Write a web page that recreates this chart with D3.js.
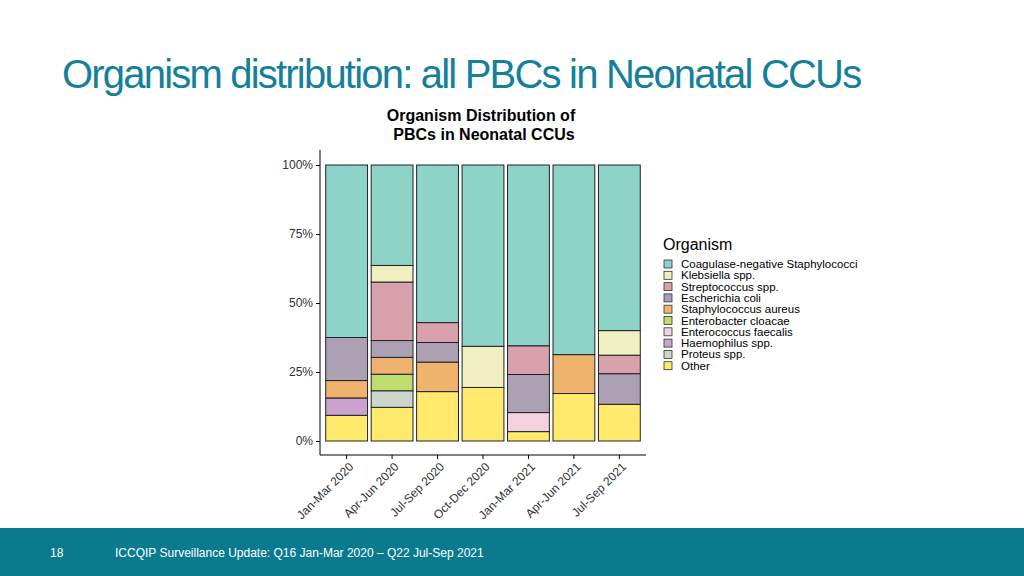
<!DOCTYPE html>
<html><head><meta charset="utf-8">
<script src="https://cdn.jsdelivr.net/npm/d3@7"></script>
<style>body{margin:0;background:#fff;font-family:"Liberation Sans",Arial,sans-serif}</style>
</head><body><svg id="c" width="1024" height="576"></svg>
<script>
const quarters = ['Jan-Mar 2020','Apr-Jun 2020','Jul-Sep 2020','Oct-Dec 2020','Jan-Mar 2021','Apr-Jun 2021','Jul-Sep 2021'];
// legend order (top to bottom)
const organisms = ['Coagulase-negative Staphylococci','Klebsiella spp.','Streptococcus spp.','Escherichia coli','Staphylococcus aureus','Enterobacter cloacae','Enterococcus faecalis','Haemophilus spp.','Proteus spp.','Other'];
const colours = ['#8dd3c7','#f0efc0','#d9a1ab','#aba1b3','#f0b36d','#bfdc6f','#f3d1e1','#c9a2cd','#cdd6cb','#ffea6d'];
const cons   = [62.5,36.4,57.1,65.7,65.5,68.7,60.0];
const kleb   = [0,6.0,0,14.9,0,0,8.9];
const strep  = [0,21.2,7.2,0,10.4,0,6.7];
const ecoli  = [15.6,6.1,7.1,0,13.8,0,11.1];
const saur   = [6.3,6.1,10.7,0,0,14.1,0];
const entb   = [0,6.0,0,0,0,0,0];
const entc   = [0,0,0,0,6.9,0,0];
const haem   = [6.3,0,0,0,0,0,0];
const prot   = [0,6.0,0,0,0,0,0];
const other  = [9.3,12.2,17.9,19.4,3.4,17.2,13.3];
const series = [cons,kleb,strep,ecoli,saur,entb,entc,haem,prot,other];

const rows = quarters.map((q,i)=>{const r={q};organisms.forEach((o,j)=>r[o]=series[j][i]);return r;});
const stackKeys = organisms.slice().reverse();
const stacked = d3.stack().keys(stackKeys)(rows);
const colour = d3.scaleOrdinal(organisms, colours);

const svg = d3.select('#c');
svg.append('text').attr('x',62).attr('y',88).attr('fill','#15809a').attr('font-size',40)
  .attr('letter-spacing',-1.8).text('Organism distribution: all PBCs in Neonatal CCUs');
svg.append('rect').attr('x',0).attr('y',528).attr('width',1024).attr('height',48).attr('fill','#0a7b8f');
svg.append('text').attr('x',50).attr('y',557).attr('fill','#fff').attr('font-size',12).text('18');
svg.append('text').attr('x',115).attr('y',557).attr('fill','#fff').attr('font-size',12)
  .text('ICCQIP Surveillance Update: Q16 Jan-Mar 2020 – Q22 Jul-Sep 2021');

svg.append('text').attr('x',481).attr('y',121).attr('text-anchor','middle').attr('font-size',16).attr('font-weight','bold').text('Organism Distribution of');
svg.append('text').attr('x',484).attr('y',140).attr('text-anchor','middle').attr('font-size',16).attr('font-weight','bold').text('PBCs in Neonatal CCUs');

const x = d3.scaleBand(quarters,[323,643]).paddingInner(0.08).paddingOuter(0.06);
const y = d3.scaleLinear([0,100],[441,165]);

const g = svg.append('g');
g.selectAll('g.s').data(stacked).join('g').attr('fill',d=>colour(d.key))
  .selectAll('rect').data(d=>d.filter(p=>p[1]-p[0]>0)).join('rect')
  .attr('x',d=>x(d.data.q)).attr('width',x.bandwidth())
  .attr('y',d=>y(d[1])).attr('height',d=>y(d[0])-y(d[1]))
  .attr('stroke','#222').attr('stroke-width',1);

const ya = svg.append('g').attr('transform','translate(320,0)')
  .call(d3.axisLeft(y).tickValues([0,25,50,75,100]).tickFormat(d=>d+'%').tickSizeOuter(0).tickSize(4));
ya.select('.domain').attr('d','M0,150V455');
ya.selectAll('text').attr('font-size',12).attr('fill','#333').attr('font-family','Liberation Sans, Arial');
const xa = svg.append('g').attr('transform','translate(0,455)')
  .call(d3.axisBottom(x).tickSizeOuter(0).tickSize(4));
xa.select('.domain').attr('d','M320,0H646');
xa.selectAll('text').attr('font-size',12).attr('fill','#333').attr('font-family','Liberation Sans, Arial')
  .attr('text-anchor','end').attr('transform','rotate(-45)').attr('dx','-0.3em').attr('dy','0.6em');

const lg = svg.append('g').attr('transform','translate(663,0)');
lg.append('text').attr('x',0).attr('y',250).attr('font-size',16).text('Organism');
organisms.forEach((o,i)=>{
  const yy = 260 + i*11.3;
  lg.append('rect').attr('x',1).attr('y',yy).attr('width',8).attr('height',8).attr('fill',colour(o)).attr('stroke','#333').attr('stroke-width',0.8);
  lg.append('text').attr('x',18).attr('y',yy+8).attr('font-size',11.5).text(o);
});
</script></body></html>
